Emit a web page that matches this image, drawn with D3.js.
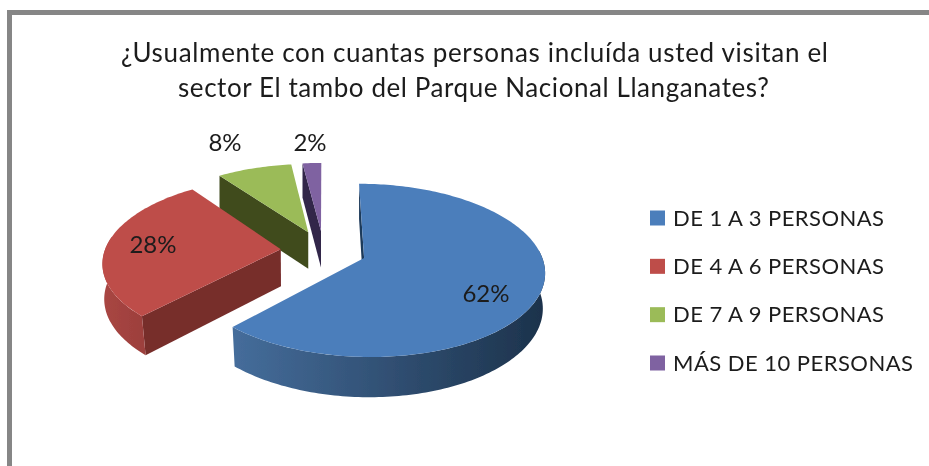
<!DOCTYPE html>
<html><head><meta charset="utf-8"><script src="https://d3js.org/d3.v7.min.js"></script>
<style>html,body{margin:0;padding:0;background:#fff;overflow:hidden}svg{display:block}text{font-family:Lato,sans-serif;fill:#1c1c1c}</style></head>
<body><svg id="c" width="929" height="466"></svg>
<script>
const titleLines = ["¿Usualmente con cuantas personas incluída usted visitan el","sector El tambo del Parque Nacional Llanganates?"];
const categories = ["DE 1 A 3 PERSONAS","DE 4 A 6 PERSONAS","DE 7 A 9 PERSONAS","MÁS DE 10 PERSONAS"];
const values = [62,28,8,2];
const labels = ["62%","28%","8%","2%"];
const topColors = ["#4c7ebb","#be4d4a","#9bbb59","#7f62a1"];
const wallColors = ["#1f3a5a","#772d2b","#3f4b1f","#30264a"];
const wallGrad = [["#456d9b","#1c324b"],["#a94643","#9c3f3c"]];

const svg = d3.select("#c");
const defs = svg.append("defs");
defs.append("filter").attr("id","soft").attr("x","-5%").attr("y","-5%").attr("width","110%").attr("height","110%")
  .append("feGaussianBlur").attr("stdDeviation",.4);
const cx=323.6, cy=250.5, R=176, k=.47, p=.0008, explode=43, depth=37;

const slices = d3.pie().sort(null).value(d=>d)(values);
const sx = d3.scaleLinear().domain([-1,1]).range([cx-1,cx+1]);
const sy = d3.scaleLinear().domain([-1,1]).range([cy+k,cy-k]);
const project = (u,v,h=0)=>{
  const w=1+p*v, shrink=1-h*Math.max(0,.005+.15*(1-w));
  return [sx((u/w)*shrink), sy(v/w)+h*depth/Math.sqrt(w)];
};
const line = d3.line();

function apex(s){const m=(s.startAngle+s.endAngle)/2; return [explode*Math.sin(m),explode*Math.cos(m)];}
function rim(s,a){const c=apex(s); return [c[0]+R*Math.sin(a),c[1]+R*Math.cos(a)];}
function arcPts(s,a0,a1,h){const n=Math.max(2,Math.ceil(Math.abs(a1-a0)/.02));
  return d3.range(n+1).map(i=>{const q=rim(s,a0+(a1-a0)*i/n);return project(q[0],q[1],h);});}

[0,1].forEach(i=>{const g=defs.append("linearGradient").attr("id","wall"+i);
  g.append("stop").attr("offset","0%").attr("stop-color",wallGrad[i][0]);
  g.append("stop").attr("offset","100%").attr("stop-color",wallGrad[i][1]);});

const root=svg.append("g").attr("filter","url(#soft)");
root.append("rect").attr("width",929).attr("height",466).attr("fill","#fff");

// chart frame
root.append("rect").attr("x",9.5).attr("y",12.5).attr("width",960).attr("height",500)
  .attr("fill","#fff").attr("stroke","#868686").attr("stroke-width",5);

// title
const titleWidths=[707,591], titleMid=[474.5,473.5];
root.append("g").selectAll("text").data(titleLines).join("text")
  .attr("x",(d,i)=>titleMid[i]).attr("y",(d,i)=>62+i*35).attr("text-anchor","middle")
  .attr("font-size",26).attr("textLength",(d,i)=>titleWidths[i]).attr("lengthAdjust","spacing").text(d=>d);

function drawSlice(i){
  const s=slices[i], g=root.append("g"), A=s.startAngle, B=s.endAngle, c=apex(s);
  const pa=project(c[0],c[1],0), pb=project(c[0],c[1],1);
  // radial cut at the start of the slice
  const q0=rim(s,A);
  g.append("path").attr("d",line([project(q0[0],q0[1],0),pa,pb,project(q0[0],q0[1],1)])+"Z").attr("fill",wallColors[i]);
  // outer wall, only the part facing the viewer
  if(i<2){
    const a0=Math.max(A,Math.PI*.47), a1=Math.min(B,Math.PI*1.55);
    const pts=arcPts(s,a0,a1,0).concat(arcPts(s,a1,a0,1));
    g.append("path").attr("d",line(pts)+"Z").attr("fill",`url(#wall${i})`);
  }
  // top surface
  g.append("path").attr("d",line(arcPts(s,A,B,0).concat([pa]))+"Z").attr("fill",topColors[i]);
}
[3,2,1,0].forEach(drawSlice);

// data labels
const labelPos=[[486,294],[153,245],[225,143],[310,143]];
root.append("g").selectAll("text").data(labels).join("text")
  .attr("x",(d,i)=>labelPos[i][0]).attr("y",(d,i)=>labelPos[i][1]+8).attr("text-anchor","middle")
  .attr("font-size",24).text(d=>d);

// legend
const legendWidths=[211,211,211,240];
const ly=d3.scalePoint().domain(categories).range([218,363]);
const lg=root.append("g").selectAll("g").data(categories).join("g").attr("transform",d=>`translate(650,${ly(d)})`);
lg.append("rect").attr("x",0).attr("y",-7.5).attr("width",15).attr("height",15).attr("fill",(d,i)=>topColors[i]);
lg.append("text").attr("x",23).attr("y",7.5).attr("font-size",22)
  .attr("textLength",(d,i)=>legendWidths[i]).attr("lengthAdjust","spacing").text(d=>d);
</script></body></html>
